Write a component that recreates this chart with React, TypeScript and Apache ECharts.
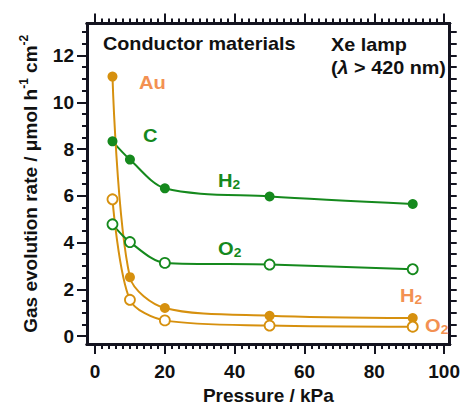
import React, { useEffect, useRef } from "react";
import * as echarts from "echarts";

// ---- data ----
const pressure = [5, 10, 20, 50, 91];
const auH2 = [11.1, 2.52, 1.2, 0.87, 0.77];
const auO2 = [5.85, 1.55, 0.67, 0.45, 0.4];
const cH2 = [8.33, 7.55, 6.32, 5.97, 5.65];
const cO2 = [4.78, 4.02, 3.13, 3.06, 2.86];

const xMajor = [0, 20, 40, 60, 80, 100];
const yMajor = [0, 2, 4, 6, 8, 10, 12];
const xMinorStep = 2;
const yMinorStep = 0.5;

const X_MIN = -2.3;
const X_MAX = 101.6;
const Y_MIN = -0.34;
const Y_MAX = 13.37;

const FONT = "'Liberation Sans', Arial, Helvetica, sans-serif";
const INK = "#111111";
const FRAME = "#141420";
const ORANGE = "#D6900E";
const ORANGE_TXT = "#F39152";
const GREEN = "#15891D";

function minorTicks(lo: number, hi: number, step: number, majors: number[]) {
  const out: number[] = [];
  for (let v = lo; v <= hi + 1e-9; v += step) {
    const r = Math.round(v * 100) / 100;
    if (!majors.some((m) => Math.abs(m - r) < 1e-9)) out.push(r);
  }
  return out;
}
const xMinor = minorTicks(0, 100, xMinorStep, xMajor);
const yMinor = minorTicks(0, 13, yMinorStep, yMajor);

function ax(position: string, min: number, max: number, ticks: number[], len: number) {
  return {
    type: "value",
    position,
    min,
    max,
    axisLine: { show: true, onZero: false, lineStyle: { color: FRAME, width: 3 } },
    axisTick: { show: true, length: len, customValues: ticks, lineStyle: { color: FRAME, width: 2 } },
    axisLabel: { show: false },
    splitLine: { show: false },
  };
}

const labelFont = {
  fontFamily: FONT,
  fontWeight: "bold",
  fontSize: 19,
  color: INK,
};

function tag(x: number, y: number, main: string, sub: string | null, color: string, sx = 1.06) {
  return {
    type: "text",
    x,
    y,
    scaleX: sx,
    z: 100,
    style: {
      text: sub ? `{m|${main}}{s|${sub}}` : `{m|${main}}`,
      rich: {
        m: { fontSize: 19, fontWeight: "bold", fontFamily: FONT, fill: color, lineHeight: 22 },
        s: {
          fontSize: 13,
          fontWeight: "bold",
          fontFamily: FONT,
          fill: color,
          lineHeight: 13,
          verticalAlign: "bottom",
        },
      },
      align: "left",
      verticalAlign: "middle",
    },
  };
}

function series(name: string, values: number[], filled: boolean, color: string) {
  return {
    name,
    type: "line",
    xAxisIndex: 0,
    yAxisIndex: 0,
    data: pressure.map((p, i) => [p, values[i]]),
    smooth: 0.3,
    symbol: "circle",
    symbolSize: 10,
    showSymbol: true,
    lineStyle: { color, width: 2 },
    itemStyle: filled
      ? { color, borderColor: color, borderWidth: 0 }
      : { color: "#fff", borderColor: color, borderWidth: 1.8 },
    z: filled ? 3 : 4,
  };
}

export default function App() {
  const ref = useRef<HTMLDivElement>(null);
  useEffect(() => {
    if (!ref.current) return;
    const chart = echarts.init(ref.current, undefined, { renderer: "svg" });
    chart.setOption({
      animation: false,
      backgroundColor: "#fff",
      grid: { left: 87, right: 10, top: 23.5, bottom: 62 },
      xAxis: [
        {
          ...ax("bottom", X_MIN, X_MAX, xMajor, 10),
          axisLabel: { show: true, customValues: xMajor, margin: 18, ...labelFont },
          name: "Pressure / kPa",
          nameLocation: "middle",
          nameGap: 42,
          nameTextStyle: { ...labelFont },
        },
        ax("bottom", X_MIN, X_MAX, xMinor, 5),
        ax("top", X_MIN, X_MAX, xMajor, 10),
        ax("top", X_MIN, X_MAX, xMinor, 5),
      ],
      yAxis: [
        {
          ...ax("left", Y_MIN, Y_MAX, yMajor, 10),
          axisLabel: { show: true, customValues: yMajor, margin: 13, ...labelFont },
          name: "{n|Gas evolution rate / μmol h}{s|-1}{n| cm}{s|-2}",
          nameLocation: "middle",
          nameGap: 45,
          nameTextStyle: {
            ...labelFont,
            rich: {
              n: { fontFamily: FONT, fontWeight: "bold", fontSize: 19, color: INK, lineHeight: 24 },
              s: {
                fontFamily: FONT,
                fontWeight: "bold",
                fontSize: 12,
                color: INK,
                lineHeight: 12,
                verticalAlign: "top",
              },
            },
          },
        },
        ax("left", Y_MIN, Y_MAX, yMinor, 5),
        ax("right", Y_MIN, Y_MAX, yMajor, 7),
        ax("right", Y_MIN, Y_MAX, yMinor, 7),
      ],
      series: [
        series("C H2", cH2, true, GREEN),
        series("C O2", cO2, false, GREEN),
        series("Au H2", auH2, true, ORANGE),
        series("Au O2", auO2, false, ORANGE),
      ],
      graphic: [
        {
          type: "text",
          x: 103,
          y: 43.5,
          scaleX: 1.1,
          style: {
            text: "Conductor materials",
            fontFamily: FONT,
            fontWeight: "bold",
            fontSize: 18,
            fill: INK,
            align: "left",
            verticalAlign: "middle",
          },
        },
        {
          type: "text",
          x: 331,
          y: 45,
          scaleX: 1.1,
          style: {
            text: "Xe lamp",
            fontFamily: FONT,
            fontWeight: "bold",
            fontSize: 18,
            fill: INK,
            align: "left",
            verticalAlign: "middle",
          },
        },
        {
          type: "text",
          x: 331,
          y: 68,
          scaleX: 1.1,
          style: {
            text: "{t|(}{i|λ}{t| > 420 nm)}",
            rich: {
              t: { fontFamily: FONT, fontWeight: "bold", fontSize: 18, fill: INK },
              i: { fontFamily: FONT, fontWeight: "bold", fontStyle: "italic", fontSize: 18, fill: INK },
            },
            align: "left",
            verticalAlign: "middle",
          },
        },
        tag(139, 82, "Au", null, ORANGE_TXT),
        tag(143, 135, "C", null, GREEN),
        tag(218, 180, "H", "2", GREEN),
        tag(218, 248, "O", "2", GREEN),
        tag(400, 295, "H", "2", ORANGE_TXT),
        tag(425, 325, "O", "2", ORANGE_TXT),
      ],
    });
    return () => chart.dispose();
  }, []);
  return (
    <div
      ref={ref}
      style={{ position: "fixed", left: 0, top: 0, width: 463, height: 410, background: "#fff" }}
    />
  );
}
